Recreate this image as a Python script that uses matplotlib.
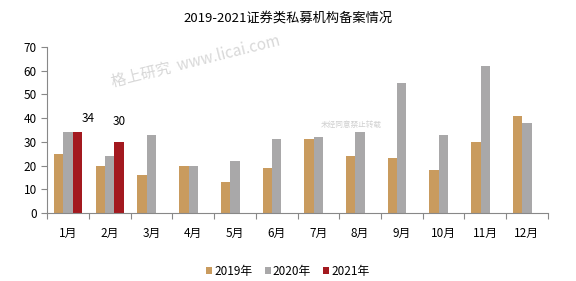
import numpy as np
import matplotlib.pyplot as plt

plt.rcParams['font.family'] = ['Noto Sans CJK SC', 'DejaVu Sans']

months = ['1月', '2月', '3月', '4月', '5月', '6月', '7月', '8月', '9月', '10月', '11月', '12月']
y2019 = [25, 20, 16, 20, 13, 19, 31, 24, 23, 18, 30, 41]
y2020 = [34, 24, 33, 20, 22, 31, 32, 34, 55, 33, 62, 38]
y2021 = [34, 30]
labels = ['2019年', '2020年', '2021年']
colors = ['#C99B5E', '#A9A8A9', '#A3191F']

fig = plt.figure(figsize=(5.76, 2.81), dpi=100)
ax = fig.add_axes([0.082, 0.242, 0.869, 0.591])

x = np.arange(len(months))
w = 0.225
ax.bar(x - w, y2019, w, color=colors[0], label=labels[0])
ax.bar(x, y2020, w, color=colors[1], label=labels[1])
ax.bar(x[:len(y2021)] + w, y2021, w, color=colors[2], label=labels[2])

# data labels for 2021
ax.annotate(str(y2021[0]), (x[0] + w, y2021[0]), xytext=(8, 5), textcoords='offset points',
            ha='center', va='bottom', fontsize=8.5)
ax.annotate(str(y2021[1]), (x[1] + w, y2021[1]), xytext=(0, 10), textcoords='offset points',
            ha='center', va='bottom', fontsize=8.5)

ax.set_xlim(-0.5, len(months) - 0.5)
ax.set_ylim(0, 70)
ax.set_yticks(range(0, 71, 10))
ax.set_xticks(np.arange(-0.5, len(months), 1))
ax.set_xticklabels([])
ax.set_xticks(x, minor=True)
ax.set_xticklabels(months, minor=True)
ax.tick_params(axis='x', which='minor', length=0, pad=10, labelsize=8.5)
ax.tick_params(axis='x', which='major', length=4, color='#888888')
ax.tick_params(axis='y', length=4, color='#888888', labelsize=8.5)

for s in ['top', 'right']:
    ax.spines[s].set_visible(False)
for s in ['left', 'bottom']:
    ax.spines[s].set_color('#888888')

fig.text(0.5, 0.935, '2019-2021证券类私募机构备案情况', ha='center', va='center', fontsize=9.5)

# watermarks
fig.text(0.34, 0.78, '格上研究  www.licai.com', ha='center', va='center', fontsize=11,
         color='#d8d8d8', rotation=14)
fig.text(0.61, 0.555, '未经同意禁止转载', ha='center', va='center', fontsize=5.5, color='#d0d0d0')

fig.legend(loc='center', bbox_to_anchor=(0.5, 0.035), ncol=3, frameon=False, fontsize=8.5,
           handlelength=0.5, handleheight=0.5, handletextpad=0.2, columnspacing=1.0)

fig.savefig('out.png', dpi=100)
